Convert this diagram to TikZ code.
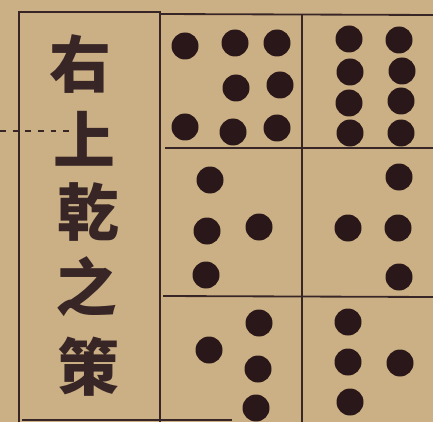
\documentclass[tikz,border=0pt]{standalone}
\usepackage{fontspec}
\newfontfamily\cjkfont{Noto Sans CJK TC}
\definecolor{PaperClr}{rgb}{0.80,0.69,0.52}
\definecolor{InkClr}{rgb}{0.22,0.15,0.15}
\definecolor{DotClr}{rgb}{0.16,0.09,0.10}

\begin{document}
\begin{tikzpicture}[x=0.5mm,y=-0.5mm,
  frame/.style={line width=2.6pt,color=InkClr},
  bead/.style={fill=DotClr},
  glyph/.style={font=\cjkfont\bfseries\fontsize{88}{88}\selectfont,text=InkClr,inner sep=0pt}]

\fill[PaperClr] (0,0) rectangle (433,422);
\useasboundingbox (0,0) rectangle (433,422);

% title column
\draw[frame] (19,422) -- (19,12) -- (160,12) -- (160,422);
\draw[frame] (22,420) -- (232,420);
\draw[InkClr,dash pattern=on 8pt off 10pt,line width=1.6pt] (0,131) -- (72,131);

% board
\draw[frame] (160,14) -- (433,15);
\draw[frame] (302,14) -- (302,422);
\draw[frame] (165,148) -- (433,148);
\draw[frame] (163,296) -- (433,297);

% title text
\node[glyph] (t1) at (80,64) {右};
\node[glyph] (t2) at (84,139) {上};
\node[glyph] (t3) at (88,212) {乾};
\node[glyph] (t4) at (86,287) {之};
\node[glyph] (t5) at (88,367) {策};

% beads
\foreach \x/\y in {185/46,235/43,277/43,236/88,280/85,185/127,233/132,277/128,
                   349/39,399/40,350/72,402/71,349/103,401/101,350/133,401/133,
                   210/180,207/231,259/227,206/275,
                   399/177,348/228,398/228,399/277,
                   259/323,209/350,258/369,256/408,
                   348/322,348/362,400/363,350/402}
  \fill[bead] (\x,\y) circle (13.5);

\end{tikzpicture}
\end{document}
